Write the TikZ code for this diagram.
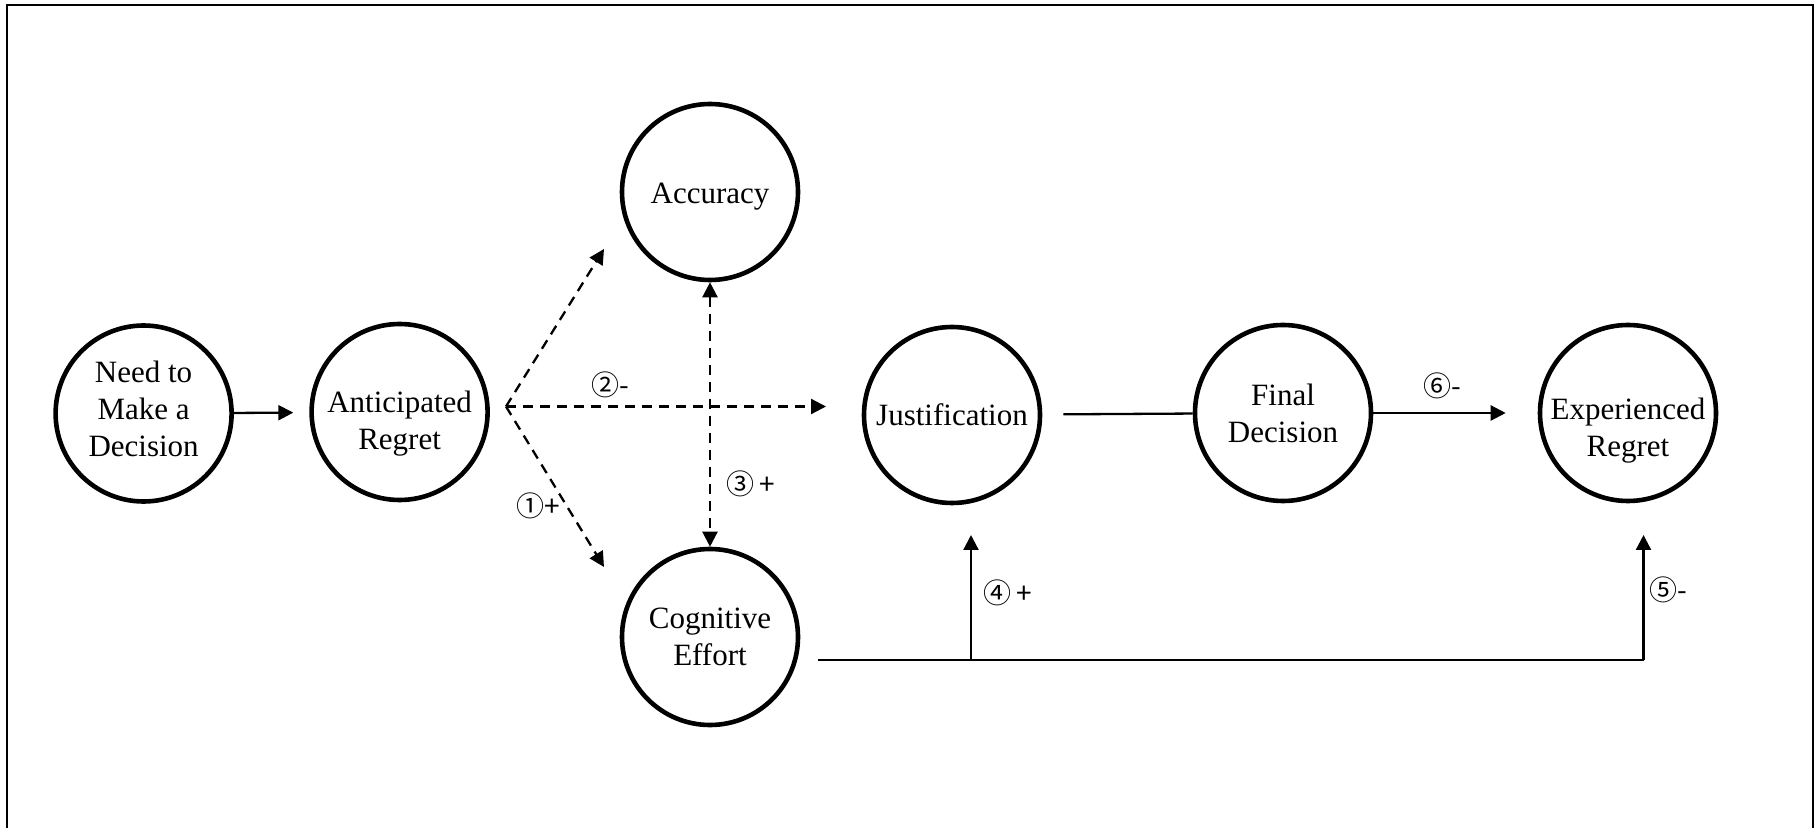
\documentclass[tikz,border=0pt]{standalone}
\usepackage{fontspec}
\setmainfont{Liberation Serif}
\newfontfamily\numfont{Noto Sans CJK KR}
\usetikzlibrary{arrows.meta, positioning}

\tikzset{
  >={Triangle[length=7.5pt,width=7.5pt]},
  concept/.style={circle, draw, line width=2.3pt, minimum size=88pt, inner sep=-6pt,
    align=center, font=\fontsize{15.5}{18.5}\selectfont},
  link/.style={line width=1.15pt, ->},
  hypo/.style={link, dash pattern=on 5pt off 3.5pt},
  tag/.style={font=\numfont\fontsize{14}{16}\selectfont, inner sep=0pt}
}

\begin{document}
\begin{tikzpicture}[x=0.5pt, y=-0.5pt]
\useasboundingbox (0,0) rectangle (1816,828);
% Frame
\draw[line width=1pt] (7,828) -- (7,5) -- (1813,5) -- (1813,828);

% Concepts
\node[concept] (need) at (143.6,413.5) {Need to\\Make a\\Decision\rule[-4.6pt]{0pt}{1pt}};
\node[concept] (antic) at (399.6,412) {\rule{0pt}{22pt}Anticipated\\Regret};
\node[concept] (acc) at (710,192) {\rule{0pt}{15.2pt}Accuracy};
\node[concept] (cog) at (710,637) {Cognitive\\Effort};
\node[concept] (jus) at (952,415) {Justification};
\node[concept] (fin) at (1283,413) {Final\\Decision};
\node[concept] (exp) at (1628,413) {\rule{0pt}{28.6pt}Experienced\\Regret};

% Helper points
\coordinate (fork) at (506,406.5);
\coordinate (accIn) at (604,249);
\coordinate (cogIn) at (604,567);
\coordinate (jusIn) at (826,406.5);
\coordinate (cogOut) at (818,660);
\coordinate (jusUp) at (971,660);
\coordinate (jusTip) at (971,535);
\coordinate (expUp) at (1643.5,660);
\coordinate (expTip) at (1643.5,535);

% Main path
\draw[link, shorten >=8pt] (need) -- (antic);
\draw[line width=1.15pt, shorten <=10.5pt] (jus) -- (fin);
\draw[link, shorten >=16pt] (fin) -- (exp);

% Dashed hypotheses
\draw[hypo] (fork) -- (accIn);
\draw[hypo] (fork) -- (cogIn);
\draw[hypo] (fork) -- (jusIn);
\draw[hypo, <->] (acc) -- (cog);

% Effort paths
\draw[line width=1.15pt] (cogOut) -- (expUp);
\draw[link] (jusUp) -- (jusTip);
\draw[link] (expUp) -- (expTip);

% Path labels
\node[tag] (h1) at (538.6,506) {①+};
\node[tag] (h2) at (610,384.5) {②-};
\node[tag] (h3) at (750.5,484) {③\,+};
\node[tag] (h4) at (1007.6,593) {④\,+};
\node[tag] (h5) at (1668,589.5) {⑤-};
\node[tag] (h6) at (1442,385.7) {⑥-};
\end{tikzpicture}
\end{document}
